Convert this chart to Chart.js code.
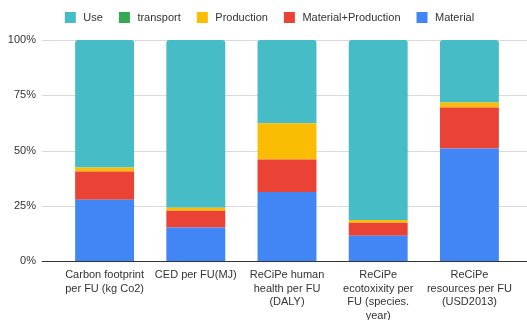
<!DOCTYPE html>
<html>
<head>
<meta charset="utf-8">
<script src="https://cdn.jsdelivr.net/npm/chart.js@4"></script>
<style>
  html, body { margin: 0; padding: 0; background: #fff; }
  #wrap { width: 527px; height: 320px; position: relative; }
</style>
</head>
<body>
<div id="wrap"><canvas id="c" width="527" height="320"></canvas></div>
<script>
// Impact categories (x axis), each label split into lines
const categories = [
  ["Carbon footprint", "per FU (kg Co2)"],
  ["CED per FU(MJ)"],
  ["ReCiPe human", "health per FU", "(DALY)"],
  ["ReCiPe", "ecotoxixity per", "FU (species.", "year)"],
  ["ReCiPe", "resources per FU", "(USD2013)"]
];

// Share of each life-cycle stage, in percent
const material           = [27.7, 15.2, 31.2, 11.4, 50.9];
const materialProduction = [12.8,  7.5, 14.7,  5.9, 18.6];
const production         = [ 1.8,  1.4, 16.4,  1.3,  2.2];
const transport          = [ 0.0,  0.0,  0.0,  0.0,  0.0];
const use                = [57.7, 75.9, 37.7, 81.4, 28.3];

const yTicks = [0, 25, 50, 75, 100];

const COLORS = {
  material: '#4285f4',
  materialProduction: '#ea4335',
  production: '#fbbc04',
  transport: '#34a853',
  use: '#46bdc6'
};

const FONT = { family: 'Arial, "Liberation Sans", sans-serif', size: 11 };
const TEXT = '#333';

// Legend band sizing and full-width horizontal guide lines
const fullGrid = {
  id: 'fullGrid',
  beforeInit(chart) {
    // reserve a fixed band for the legend above the plot
    const legend = chart.legend;
    if (legend) {
      const fit = legend.fit;
      legend.fit = function () {
        fit.call(this);
        this.height = 44;
      };
    }
  },
  afterLayout(chart, args, opts) {
    // nudge the legend row to the right
    if (chart.legend) {
      chart.legend.left += opts.legendShift;
      chart.legend.right += opts.legendShift;
    }
  },
  beforeDatasetsDraw(chart, args, opts) {
    const { ctx, scales: { y } } = chart;
    ctx.save();
    ctx.lineWidth = 1;
    ctx.strokeStyle = '#d9d9d9';
    yTicks.forEach(v => {
      if (v === 0) return;
      const py = Math.round(y.getPixelForValue(v)) + 0.5;
      ctx.beginPath(); ctx.moveTo(opts.left, py); ctx.lineTo(chart.width, py); ctx.stroke();
    });
    ctx.restore();
  },
  afterDatasetsDraw(chart, args, opts) {
    const { ctx, scales: { y } } = chart;
    const py = Math.round(y.getPixelForValue(0)) + 0.5;
    ctx.save();
    ctx.lineWidth = 1;
    ctx.strokeStyle = '#333';
    ctx.beginPath(); ctx.moveTo(opts.left, py); ctx.lineTo(chart.width, py); ctx.stroke();
    ctx.restore();
  }
};

const seg = (label, data, color) => ({
  label, data,
  backgroundColor: color,
  borderWidth: 0,
  borderRadius: 3,
  borderSkipped: 'start',
  barPercentage: 1,
  categoryPercentage: 0.646
});

new Chart(document.getElementById('c'), {
  type: 'bar',
  data: {
    labels: categories,
    datasets: [
      seg('Material', material, COLORS.material),
      seg('Material+Production', materialProduction, COLORS.materialProduction),
      seg('Production', production, COLORS.production),
      seg('transport', transport, COLORS.transport),
      seg('Use', use, COLORS.use)
    ]
  },
  options: {
    responsive: false,
    animation: false,
    layout: { padding: { left: 0, right: 12, top: -4, bottom: 0 } },
    plugins: {
      fullGrid: { left: 42, legendShift: 11 },
      tooltip: { enabled: false },
      legend: {
        position: 'top',
        reverse: true,
        labels: {
          boxWidth: 15,
          boxHeight: 15,
          padding: 14,
          color: TEXT,
          font: FONT,
          // white inset stroke leaves an 11px swatch with a wider gap before the text
          generateLabels(chart) {
            return Chart.defaults.plugins.legend.labels.generateLabels(chart).map(item => ({
              ...item,
              lineWidth: 4,
              strokeStyle: '#fff'
            }));
          }
        }
      }
    },
    scales: {
      x: {
        stacked: true,
        grid: { display: false, drawTicks: false },
        border: { display: false },
        ticks: {
          color: TEXT,
          font: { ...FONT, lineHeight: 1.25 },
          maxRotation: 0,
          autoSkip: false,
          padding: 7
        },
        afterFit(scale) { scale.height = 59; }
      },
      y: {
        stacked: true,
        min: 0,
        max: 100,
        afterBuildTicks(scale) { scale.ticks = yTicks.map(v => ({ value: v })); },
        grid: { display: false, drawTicks: false },
        border: { display: false },
        ticks: {
          color: TEXT,
          font: FONT,
          padding: 23,
          callback: v => v + '%'
        },
        afterFit(scale) { scale.width = 59; }
      }
    }
  },
  plugins: [fullGrid]
});
</script>
</body>
</html>
